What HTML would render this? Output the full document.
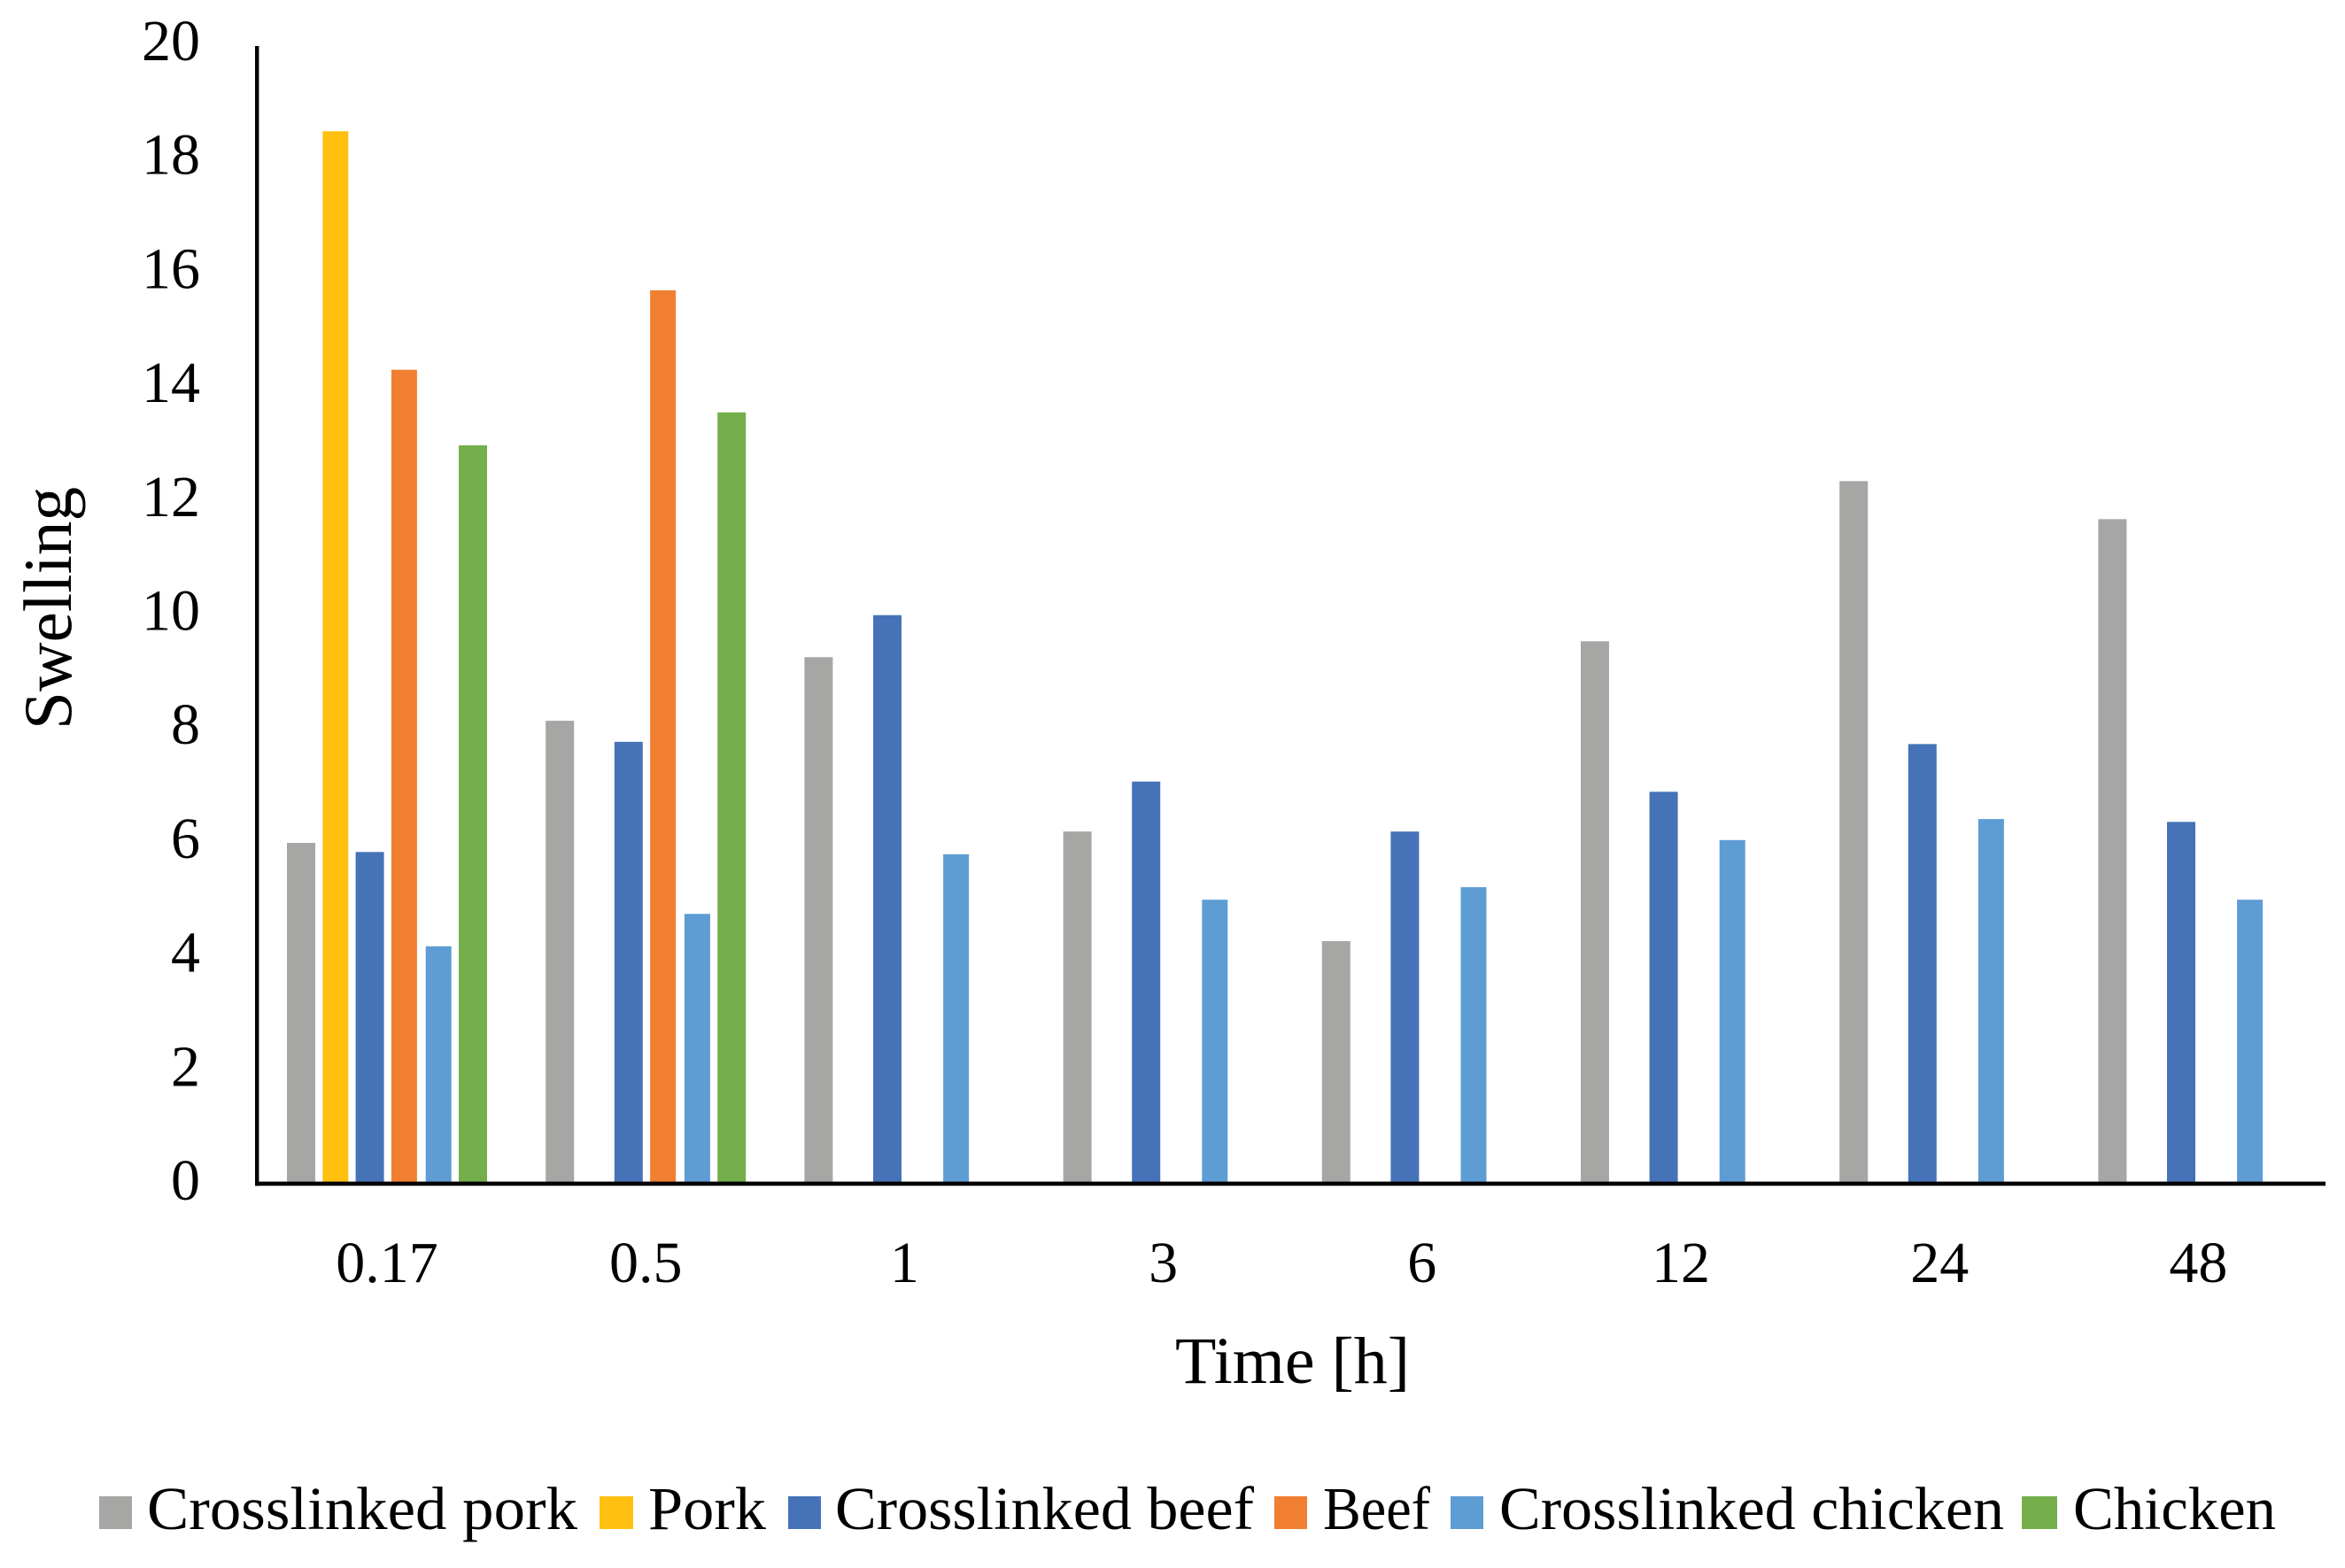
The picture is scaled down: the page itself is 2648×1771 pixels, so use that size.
<!DOCTYPE html>
<html lang="en">
<head>
<meta charset="utf-8">
<title>Swelling over time</title>
<style>
  html, body { margin: 0; padding: 0; background: #fff; }
  svg { display: block; }
  text { font-family: "Liberation Serif", serif; fill: #000; }
</style>
</head>
<body>
<svg id="chart" xmlns="http://www.w3.org/2000/svg" width="2648" height="1771" viewBox="0 0 2648 1771">
  <rect x="0" y="0" width="2648" height="1771" fill="#ffffff"/>
  <g id="bars"></g>
  <g id="y-ticks"></g>
  <g id="x-ticks"></g>
  <rect x="288" y="52" width="4.4" height="1287.3" fill="#000"/>
  <rect x="288" y="1334.6" width="2338" height="4.7" fill="#000"/>

  <text x="1327" y="1562" font-size="75" textLength="265" lengthAdjust="spacingAndGlyphs">Time [h]</text>
  <text transform="translate(80,824) rotate(-90)" font-size="77" textLength="274" lengthAdjust="spacingAndGlyphs">Swelling</text>

  <g>
    <g>
      <rect x="112" y="1690" width="37" height="37" fill="#a6a6a5"/>
      <text x="166" y="1727" font-size="69" textLength="486" lengthAdjust="spacingAndGlyphs">Crosslinked pork</text>
    </g>
    <g>
      <rect x="677" y="1690" width="38" height="37" fill="#ffc010"/>
      <text x="732" y="1727" font-size="69" textLength="133" lengthAdjust="spacingAndGlyphs">Pork</text>
    </g>
    <g>
      <rect x="890" y="1690" width="37" height="37" fill="#4673b8"/>
      <text x="943" y="1727" font-size="69" textLength="473" lengthAdjust="spacingAndGlyphs">Crosslinked beef</text>
    </g>
    <g>
      <rect x="1439" y="1690" width="37" height="37" fill="#f07f31"/>
      <text x="1494" y="1727" font-size="69" textLength="121" lengthAdjust="spacingAndGlyphs">Beef</text>
    </g>
    <g>
      <rect x="1638" y="1690" width="37" height="37" fill="#5e9cd4"/>
      <text x="1693" y="1727" font-size="69" textLength="570" lengthAdjust="spacingAndGlyphs">Crosslinked chicken</text>
    </g>
    <g>
      <rect x="2283" y="1690" width="40" height="37" fill="#74af4c"/>
      <text x="2341" y="1727" font-size="69" textLength="229" lengthAdjust="spacingAndGlyphs">Chicken</text>
    </g>
  </g>
</svg>

<script>
const categories = ["0.17", "0.5", "1", "3", "6", "12", "24", "48"];
const yTickValues = [0, 2, 4, 6, 8, 10, 12, 14, 16, 18, 20];

const crosslinkedPork = [5.97, 8.12, 9.24, 6.17, 4.24, 9.52, 12.34, 11.67];
const pork = [18.5, null, null, null, null, null, null, null];
const crosslinkedBeef = [5.81, 7.75, 9.98, 7.05, 6.17, 6.87, 7.71, 6.34];
const beef = [14.3, 15.7, null, null, null, null, null, null];
const crosslinkedChicken = [4.15, 4.72, 5.77, 4.97, 5.19, 6.02, 6.39, 4.97];
const chicken = [12.97, 13.55, null, null, null, null, null, null];

const seriesNames = ["crosslinked-pork", "pork", "crosslinked-beef", "beef", "crosslinked-chicken", "chicken"];
const seriesValues = [crosslinkedPork, pork, crosslinkedBeef, beef, crosslinkedChicken, chicken];
const seriesColors = ["#a6a6a5", "#ffc010", "#4673b8", "#f07f31", "#5e9cd4", "#74af4c"];
const seriesBarWidths = [32, 29, 32, 29, 29, 32];

const SVG_NS = "http://www.w3.org/2000/svg";

// Axis functions
function yScale(v) { return 1335 - v * 64.15; }
function yLabelBaseline(v) { return 1355 - v * 64.35; }
function groupCenter(i) { return 437 + i * 292.2; }
function barCenter(groupIndex, seriesIndex) {
  return groupCenter(groupIndex) - 97 + seriesIndex * 38.8;
}

const barsLayer = document.getElementById("bars");
seriesValues.forEach(function (values, s) {
  values.forEach(function (value, g) {
    if (value === null) return;
    const rect = document.createElementNS(SVG_NS, "rect");
    
    
    const w = seriesBarWidths[s];
    rect.setAttribute("x", barCenter(g, s) - w / 2);
    rect.setAttribute("y", yScale(value));
    rect.setAttribute("width", w);
    rect.setAttribute("height", yScale(0) - yScale(value));
    rect.setAttribute("fill", seriesColors[s]);
    barsLayer.appendChild(rect);
  });
});

const yTicksLayer = document.getElementById("y-ticks");
yTickValues.forEach(function (tick) {
  const label = document.createElementNS(SVG_NS, "text");
  
  
  label.setAttribute("x", 226);
  label.setAttribute("y", yLabelBaseline(tick));
  label.setAttribute("font-size", 66);
  label.setAttribute("text-anchor", "end");
  label.textContent = String(tick);
  yTicksLayer.appendChild(label);
});

const xTicksLayer = document.getElementById("x-ticks");
categories.forEach(function (category, i) {
  const label = document.createElementNS(SVG_NS, "text");
  
  
  label.setAttribute("x", groupCenter(i));
  label.setAttribute("y", 1448);
  label.setAttribute("font-size", 66);
  label.setAttribute("text-anchor", "middle");
  label.textContent = category;
  xTicksLayer.appendChild(label);
});
</script>
</body>
</html>
